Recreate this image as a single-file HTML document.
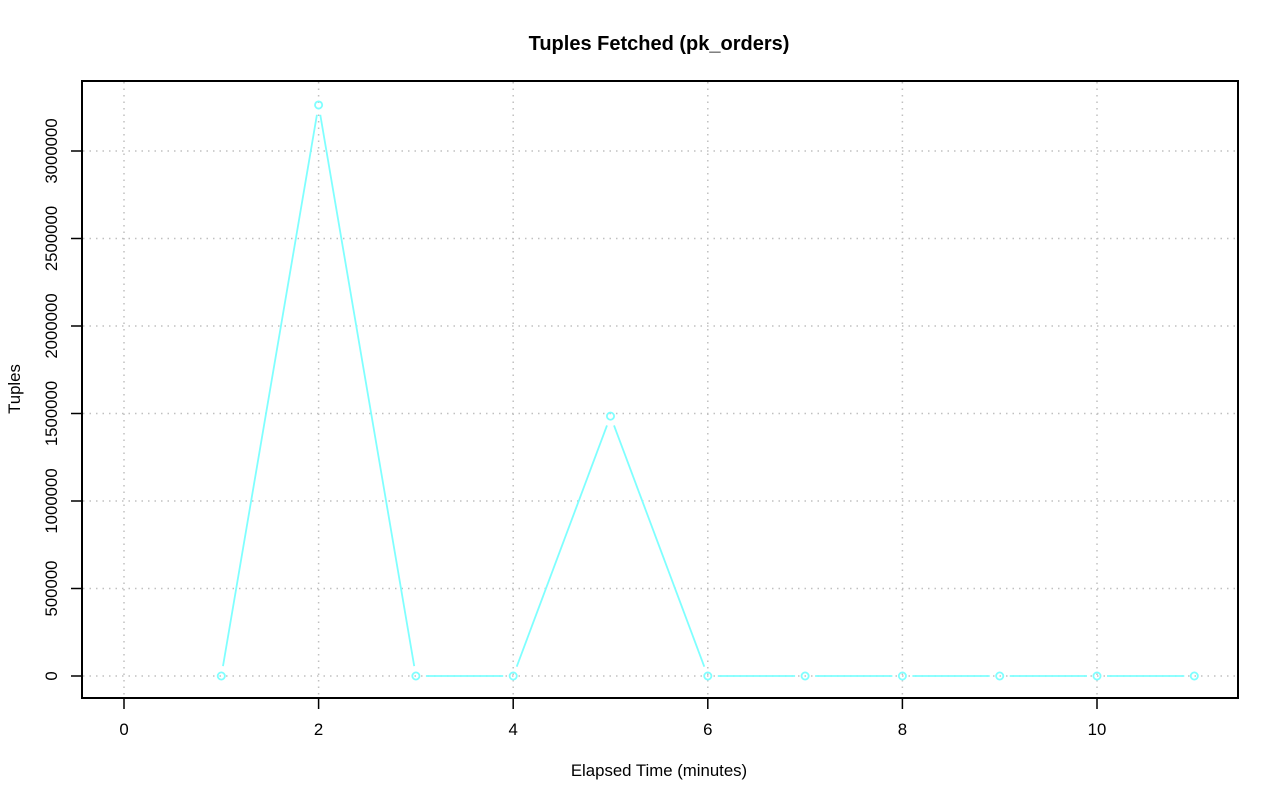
<!DOCTYPE html>
<html><head><style>body{margin:0;background:#fff}svg{display:block}text{font-family:"Liberation Sans",sans-serif;fill:#000}</style></head>
<body>
<svg id="s" width="1280" height="801" xmlns="http://www.w3.org/2000/svg">
<text x="659" y="50" font-size="20" font-weight="bold" text-anchor="middle">Tuples Fetched (pk_orders)</text>
<text x="659" y="776" font-size="16.8" text-anchor="middle">Elapsed Time (minutes)</text>
<text transform="translate(20,389) rotate(-90)" font-size="16.8" text-anchor="middle">Tuples</text>
<g id="grid" stroke="#c0c0c0" stroke-width="1.5" stroke-dasharray="1.5,5"></g>
<g id="ax" stroke="#000" stroke-width="1.5"></g>
<g id="lab" font-size="16.8"></g>
<g id="ser" stroke="#7fffff" stroke-width="1.8" fill="none"></g>
<rect x="82" y="81" width="1156" height="617" fill="none" stroke="#000" stroke-width="2"/>
</svg>
<script>
const NS="http://www.w3.org/2000/svg";
function el(p,t,a,txt){const e=document.createElementNS(NS,t);for(const k in a)e.setAttribute(k,a[k]);if(txt!=null)e.textContent=txt;document.getElementById(p).appendChild(e);}
const X=v=>124+v*97.3, Y=v=>676-v/500000*87.5;
for(let i=0;i<=10;i+=2){el('grid','line',{x1:X(i),x2:X(i),y1:82,y2:697});el('ax','line',{x1:X(i),x2:X(i),y1:698,y2:709});el('lab','text',{x:X(i),y:735,'text-anchor':'middle'},String(i));}
for(let v=0;v<=3000000;v+=500000){el('grid','line',{x1:83,x2:1237,y1:Y(v),y2:Y(v)});el('ax','line',{x1:71,x2:82,y1:Y(v),y2:Y(v)});el('lab','text',{transform:`translate(57,${Y(v)}) rotate(-90)`,'text-anchor':'middle'},String(v));}
const d=[[1,0],[2,3263000],[3,0],[4,0],[5,1485000],[6,0],[7,0],[8,0],[9,0],[10,0],[11,0]];
const P=d.map(([a,b])=>[X(a),Y(b)]);
for(let i=0;i<P.length-1;i++){const[a,b]=P[i],[c,e]=P[i+1];const L=Math.hypot(c-a,e-b),g=10,ux=(c-a)/L,uy=(e-b)/L;el('ser','line',{x1:a+ux*g,y1:b+uy*g,x2:c-ux*g,y2:e-uy*g});}
P.forEach(([a,b])=>el('ser','circle',{cx:a,cy:b,r:3.6}));
</script>
</body></html>
